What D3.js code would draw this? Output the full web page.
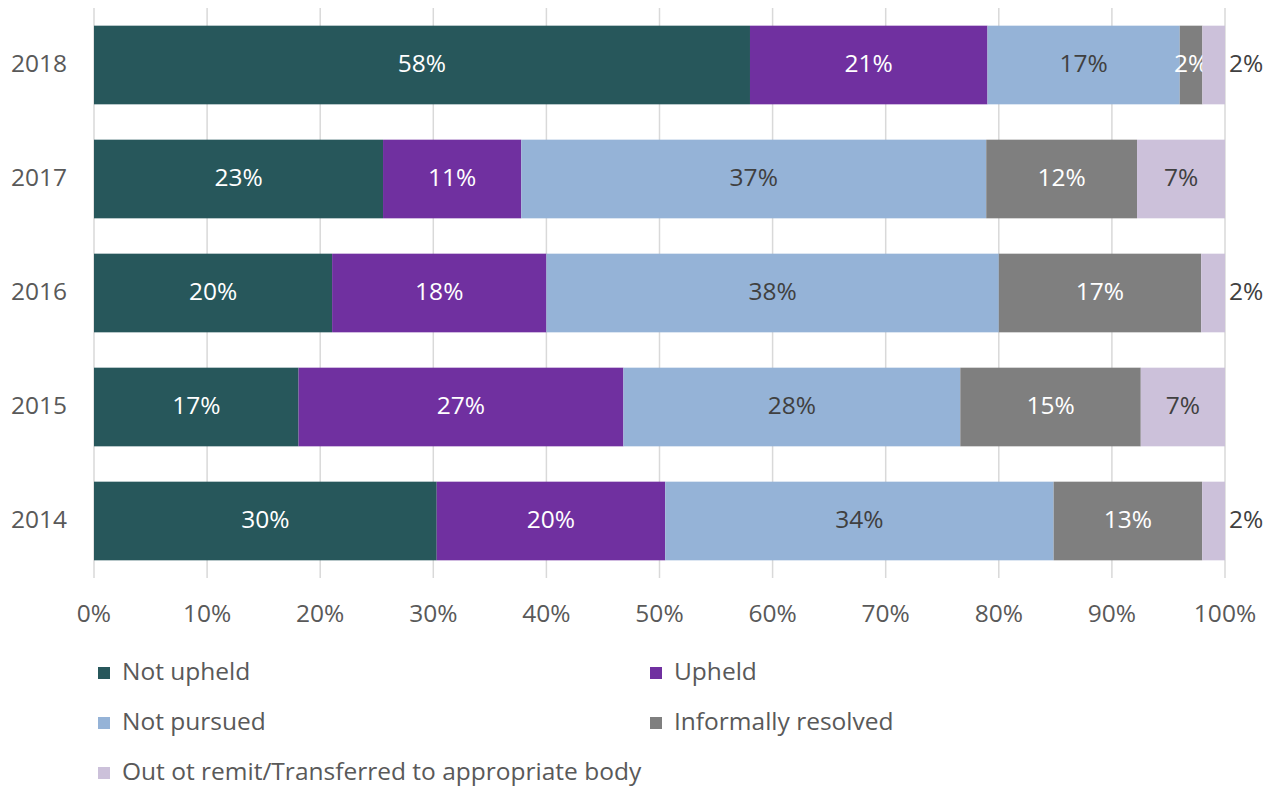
<!DOCTYPE html>
<html><head><meta charset="utf-8">
<script src="https://cdn.jsdelivr.net/npm/d3@7"></script>
<style>
html,body{margin:0;padding:0;background:#fff;}
text{font-family:"Open Sans","Noto Sans",sans-serif;}
</style></head>
<body>
<svg id="chart" width="1276" height="788"></svg>
<script>
const years = ["2018","2017","2016","2015","2014"];
const seriesNames = ["Not upheld","Upheld","Not pursued","Informally resolved","Out ot remit/Transferred to appropriate body"];
const notUpheld = [58,23,20,17,30];
const upheld = [21,11,18,27,20];
const notPursued = [17,37,38,28,34];
const informallyResolved = [2,12,17,15,13];
const outOfRemit = [2,7,2,7,2];
const seriesColors = ["#27575B","#7030A0","#95B3D7","#7F7F7F","#CCC1DA"];
const labelColors = ["#ffffff","#ffffff","#404040","#ffffff","#404040"];
const xTicks = [0,0.1,0.2,0.3,0.4,0.5,0.6,0.7,0.8,0.9,1];

const values = [notUpheld, upheld, notPursued, informallyResolved, outOfRemit];
const rows = years.map((y,i)=>{
  const r = {year:y};
  seriesNames.forEach((s,j)=>r[s]=values[j][i]);
  return r;
});
const stack = d3.stack().keys(seriesNames).offset(d3.stackOffsetExpand);
const layers = stack(rows);

const FS = 24.5;
const svg = d3.select("#chart");
const m = {left:94, right:1225, top:8, bottom:578};
const x = d3.scaleLinear().domain([0,1]).range([m.left, m.right]);
const y = d3.scaleBand().domain(years).range([m.top, m.bottom]).paddingInner(0.31).paddingOuter(0.155);

// gridlines
svg.append("g").selectAll("line").data(xTicks).join("line")
  .attr("x1",d=>x(d)).attr("x2",d=>x(d))
  .attr("y1",m.top).attr("y2",m.bottom)
  .attr("stroke","#D9D9D9").attr("stroke-width",1.5);

// x axis labels
svg.append("g").selectAll("text").data(xTicks).join("text")
  .attr("x",d=>x(d)).attr("y",615)
  .attr("text-anchor","middle").attr("dominant-baseline","middle")
  .attr("font-size",FS).attr("fill","#595959")
  .text(d=>d3.format(".0%")(d));

// y labels
svg.append("g").selectAll("text").data(years).join("text")
  .attr("x",67).attr("y",d=>y(d)+y.bandwidth()/2)
  .attr("text-anchor","end").attr("dominant-baseline","middle")
  .attr("font-size",FS).attr("fill","#595959")
  .text(d=>d);

// bars
layers.forEach((layer,j)=>{
  const g = svg.append("g");
  g.selectAll("rect").data(layer).join("rect")
    .attr("x",d=>x(d[0])).attr("width",d=>x(d[1])-x(d[0]))
    .attr("y",d=>y(d.data.year)).attr("height",y.bandwidth())
    .attr("fill",seriesColors[j]);
  g.selectAll("text").data(layer).join("text")
    .each(function(d){
      const w = x(d[1])-x(d[0]);
      const outside = (j===seriesNames.length-1) && w < 30;
      d3.select(this)
        .attr("x", outside ? x(d[1])+4 : (x(d[0])+x(d[1]))/2)
        .attr("text-anchor", outside ? "start" : "middle")
        .attr("fill", outside ? "#404040" : labelColors[j]);
    })
    .attr("y",d=>y(d.data.year)+y.bandwidth()/2)
    .attr("dominant-baseline","middle")
    .attr("font-size",FS)
    .text(d=>d.data[seriesNames[j]]+"%");
});

// legend
const legendPos = [[98,673],[650,673],[98,723],[650,723],[98,773]];
const lg = svg.append("g");
seriesNames.forEach((s,j)=>{
  const [lx,ly] = legendPos[j];
  lg.append("rect").attr("x",lx).attr("y",ly-6).attr("width",12).attr("height",12).attr("fill",seriesColors[j]);
  lg.append("text").attr("x",lx+24).attr("y",ly).attr("dominant-baseline","middle")
    .attr("font-size",FS).attr("fill","#595959").text(s);
});
</script>
</body></html>
